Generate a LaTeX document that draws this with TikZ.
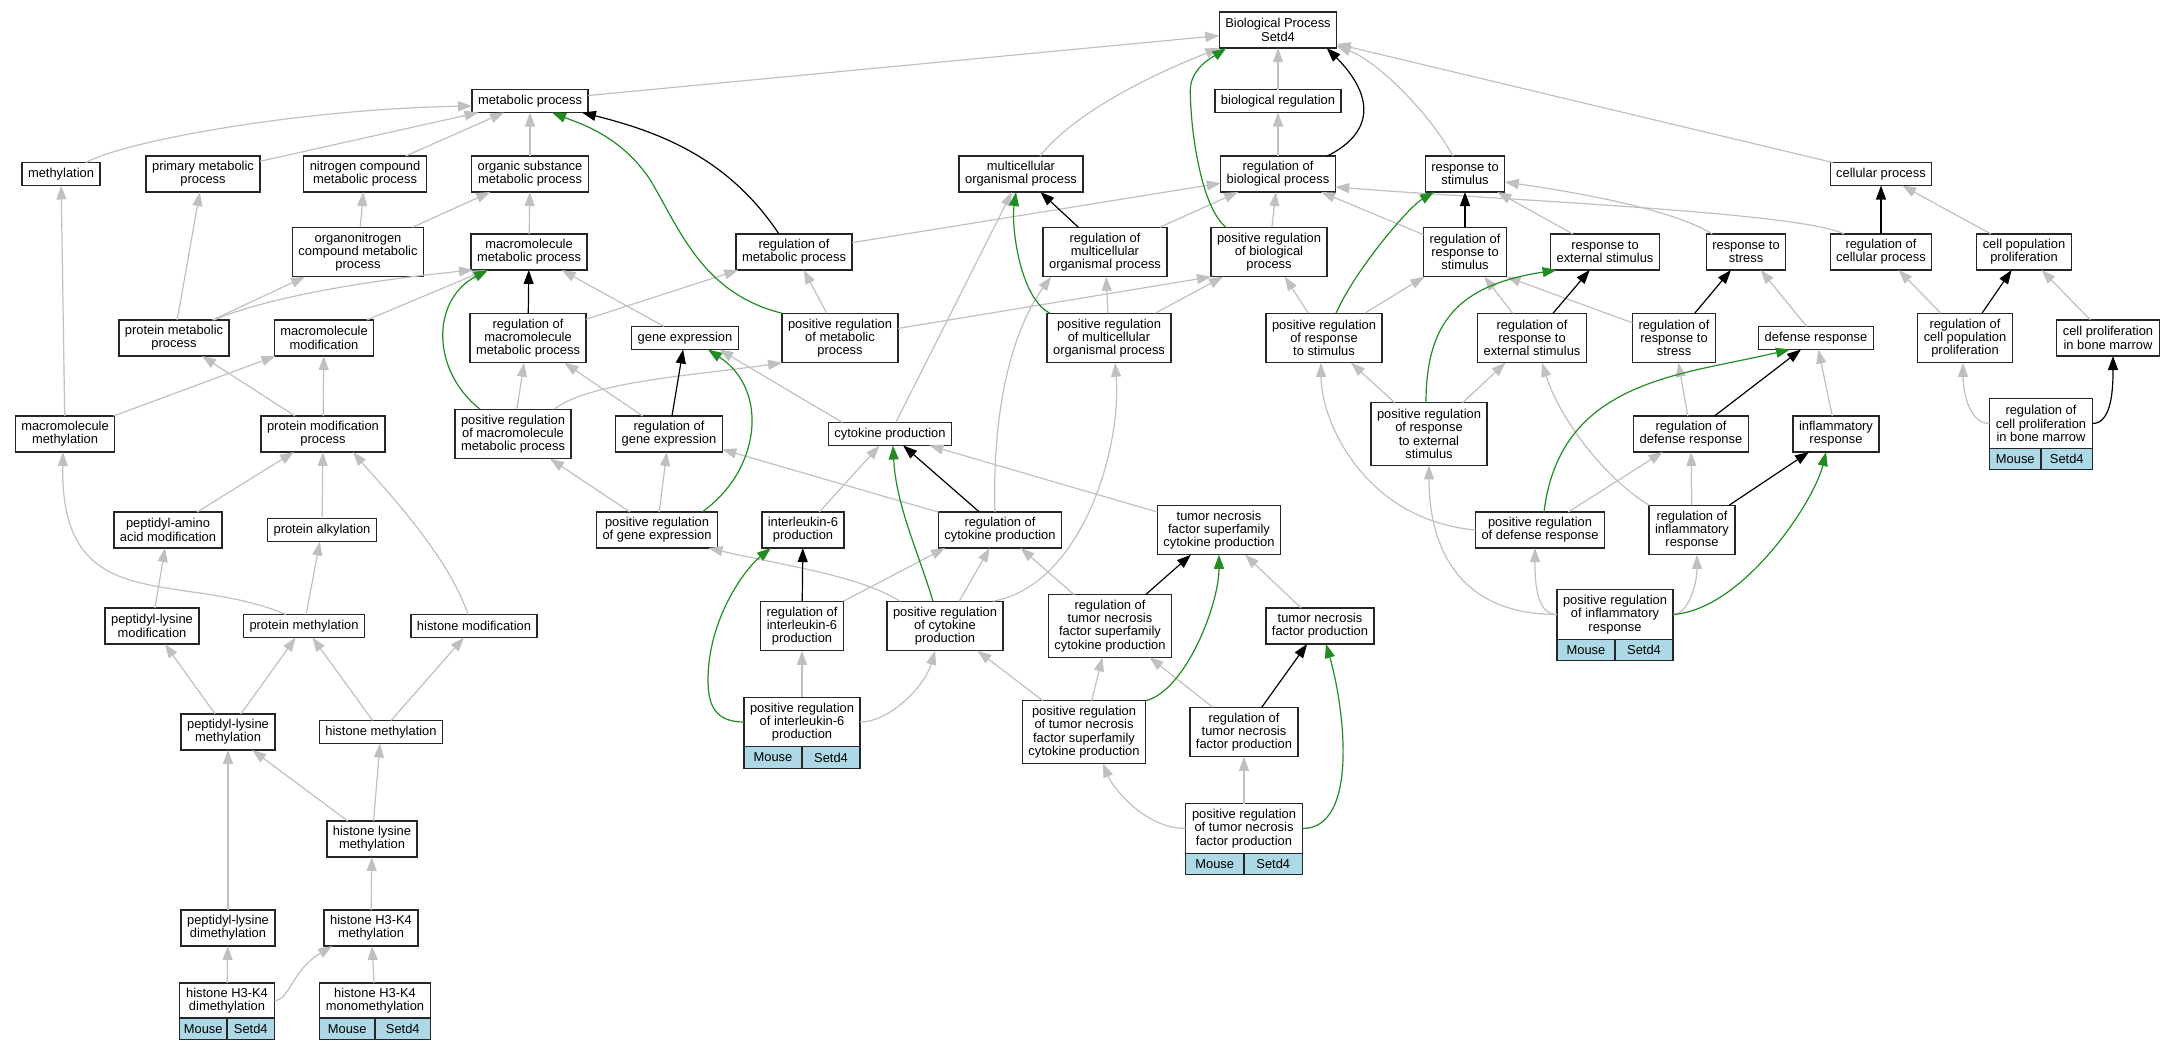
\documentclass[tikz,border=0pt]{standalone}
\usepackage{fontspec}
\setmainfont{Liberation Sans}
\usetikzlibrary{arrows.meta,calc}
\definecolor{isagray}{RGB}{192,192,192}
\definecolor{posgreen}{RGB}{34,139,34}
\definecolor{taxonblue}{RGB}{173,216,230}
\newcommand{\speciesrow}[1]{%
  \path let \p1=($(#1.south east)-(#1.south west)$) in
    node[cell,minimum width=0.5*\x1,anchor=north west] (#1-m) at (#1.south west) {Mouse}
    node[cell,minimum width=0.5*\x1,anchor=north east] (#1-s) at (#1.south east) {Setd4};}
\begin{document}
\begin{tikzpicture}[
    x=0.5pt, y=-0.5pt,
    box/.style={draw=black!85, line width=0.65pt, fill=white, rectangle, align=center,
      inner xsep=3pt, inner ysep=2pt, outer sep=0pt, minimum height=11.5pt,
      font=\fontsize{6.45pt}{6.65pt}\selectfont},
    box2/.style={box, minimum height=18pt},
    box3/.style={box, minimum height=24.75pt},
    box4/.style={box, minimum height=31.25pt},
    cell/.style={box, fill=taxonblue, minimum height=10.75pt, inner sep=0pt},
    isa/.style={draw=isagray, line width=0.6pt, -{Triangle[length=7pt,width=5pt]}},
    reg/.style={draw=black, line width=0.6pt, -{Triangle[length=7pt,width=5pt]}},
    posreg/.style={draw=posgreen, line width=0.6pt, -{Triangle[length=7pt,width=5pt]}}
  ]
  \useasboundingbox (0,0) rectangle (2175,1051);

  \node[box2] (bp) at (1278,30) {Biological Process\\Setd4};
  \node[box] (meta) at (530,101) {metabolic process};
  \node[box] (bioreg) at (1278,101) {biological regulation};

  \node[box] (methyl) at (61,174) {methylation};
  \node[box2] (primmeta) at (203,174) {primary metabolic\\process};
  \node[box2] (nitro) at (365,174) {nitrogen compound\\metabolic process};
  \node[box2] (orgsub) at (530,174) {organic substance\\metabolic process};
  \node[box2] (multi) at (1021,174) {multicellular\\organismal process};
  \node[box2] (regbio) at (1278,174) {regulation of\\biological process};
  \node[box2] (resstim) at (1465,174) {response to\\stimulus};
  \node[box] (cellproc) at (1881,174) {cellular process};

  \node[box3] (orgnitro) at (358,252) {organonitrogen\\compound metabolic\\process};
  \node[box2] (macmeta) at (529,252) {macromolecule\\metabolic process};
  \node[box2] (regmeta) at (794,252) {regulation of\\metabolic process};
  \node[box3] (regmulti) at (1105,252) {regulation of\\multicellular\\organismal process};
  \node[box3] (posbio) at (1269,252) {positive regulation\\of biological\\process};
  \node[box3] (regstim) at (1465,252) {regulation of\\response to\\stimulus};
  \node[box2] (resext) at (1605,252) {response to\\external stimulus};
  \node[box2] (resstress) at (1746,252) {response to\\stress};
  \node[box2] (regcell) at (1881,252) {regulation of\\cellular process};
  \node[box2] (cellpop) at (2024,252) {cell population\\proliferation};

  \node[box2] (protmeta) at (174,338) {protein metabolic\\process};
  \node[box2] (macmod) at (324,338) {macromolecule\\modification};
  \node[box3] (regmac) at (528,338) {regulation of\\macromolecule\\metabolic process};
  \node[box] (gene) at (685,338) {gene expression};
  \node[box3] (posmeta) at (840,338) {positive regulation\\of metabolic\\process};
  \node[box3] (posmulti) at (1109,338) {positive regulation\\of multicellular\\organismal process};
  \node[box3] (posstim) at (1324,338) {positive regulation\\of response\\to stimulus};
  \node[box3] (regext) at (1532,338) {regulation of\\response to\\external stimulus};
  \node[box3] (regstress) at (1674,338) {regulation of\\response to\\stress};
  \node[box] (defense) at (1816,338) {defense response};
  \node[box3] (regpop) at (1965,338) {regulation of\\cell population\\proliferation};
  \node[box2] (bonemar) at (2108,338) {cell proliferation\\in bone marrow};

  \node[box2] (macmethyl) at (65,434) {macromolecule\\methylation};
  \node[box2] (protmod) at (323,434) {protein modification\\process};
  \node[box3] (posmac) at (513,434) {positive regulation\\of macromolecule\\metabolic process};
  \node[box2] (reggene) at (669,434) {regulation of\\gene expression};
  \node[box] (cytok) at (890,434) {cytokine production};
  \node[box4] (posext) at (1429,434) {positive regulation\\of response\\to external\\stimulus};
  \node[box2] (regdef) at (1691,434) {regulation of\\defense response};
  \node[box2] (inflam) at (1836,434) {inflammatory\\response};
  \node[box3, minimum width=51.5pt] (regbone) at (2041,423.5) {regulation of\\cell proliferation\\in bone marrow};

  \node[box2] (pepamino) at (168,530) {peptidyl-amino\\acid modification};
  \node[box] (protalk) at (322,530) {protein alkylation};
  \node[box2] (posgene) at (657,530) {positive regulation\\of gene expression};
  \node[box2] (il6) at (803,530) {interleukin-6\\production};
  \node[box2] (regcyt) at (1000,530) {regulation of\\cytokine production};
  \node[box3] (tnfsf) at (1219,530) {tumor necrosis\\factor superfamily\\cytokine production};
  \node[box2] (posdef) at (1540,530) {positive regulation\\of defense response};
  \node[box3] (reginf) at (1692,530) {regulation of\\inflammatory\\response};

  \node[box2] (peplys) at (152,626) {peptidyl-lysine\\modification};
  \node[box] (protmethyl) at (304,626) {protein methylation};
  \node[box] (histmod) at (474,626) {histone modification};
  \node[box3] (regil6) at (802,626) {regulation of\\interleukin-6\\production};
  \node[box3] (poscyt) at (945,626) {positive regulation\\of cytokine\\production};
  \node[box4] (regtnfsf) at (1110,626) {regulation of\\tumor necrosis\\factor superfamily\\cytokine production};
  \node[box2] (tnf) at (1320,626) {tumor necrosis\\factor production};
  \node[box3, minimum width=58pt] (posinf) at (1615,614.5) {positive regulation\\of inflammatory\\response};

  \node[box2] (peplysme) at (228,732) {peptidyl-lysine\\methylation};
  \node[box] (histme) at (381,732) {histone methylation};
  \node[box3, minimum width=58pt] (posil6) at (802,722) {positive regulation\\of interleukin-6\\production};
  \node[box4] (postnfsf) at (1084,732) {positive regulation\\of tumor necrosis\\factor superfamily\\cytokine production};
  \node[box3] (regtnf) at (1244,732) {regulation of\\tumor necrosis\\factor production};

  \node[box2] (histlys) at (372,839) {histone lysine\\methylation};
  \node[box3, minimum width=58.5pt] (postnf) at (1244,828.5) {positive regulation\\of tumor necrosis\\factor production};

  \node[box2] (peplysdi) at (228,928) {peptidyl-lysine\\dimethylation};
  \node[box2] (h3k4) at (371,928) {histone H3-K4\\methylation};

  \node[box2, minimum width=47.5pt, minimum height=17.5pt] (h3k4di) at (227,1000.5) {histone H3-K4\\dimethylation};
  \node[box2, minimum width=55.5pt, minimum height=17.5pt] (h3k4mono) at (375,1000.5) {histone H3-K4\\monomethylation};

  \speciesrow{h3k4di}
  \speciesrow{h3k4mono}
  \speciesrow{posil6}
  \speciesrow{postnf}
  \speciesrow{posinf}
  \speciesrow{regbone}

  \begin{scope}[isa]
    \path
    (meta) edge (bp)
    (bioreg) edge (bp)
    (cellproc) edge (bp)
    (regbio) edge (bioreg)
    (posbio) edge (regbio)
    (primmeta) edge (meta)
    (nitro) edge (meta)
    (orgsub) edge (meta)
    (orgnitro) edge (nitro)
    (orgnitro) edge (orgsub)
    (macmeta) edge (orgsub)
    (protmeta) edge (primmeta)
    (protmeta) edge (orgnitro)
    (macmod) edge (macmeta)
    (gene) edge (macmeta)
    (regmac) edge (regmeta)
    (posmeta) edge (regmeta)
    (regmeta) edge (regbio)
    (posmeta) edge (posbio.south west)
    (cytok) edge (multi)
    (posmulti) edge (regmulti)
    (regmulti) edge (regbio)
    (posmulti) edge (posbio)
    (posgene) edge (reggene)
    (posgene) edge (posmac)
    (reggene) edge (regmac)
    (posmac) edge (regmac)
    (il6) edge (cytok)
    (tnfsf) edge (cytok)
    (regcyt) edge (reggene)
    (poscyt) edge (regcyt)
    (regil6.north east) edge ($(regcyt.south)+(-55,0)$)
    (posil6) edge (regil6)
    (regtnfsf) edge (regcyt)
    (postnfsf) edge (regtnfsf)
    (postnfsf) edge (poscyt)
    (tnf) edge (tnfsf)
    (regtnf) edge (regtnfsf)
    (postnf) edge (regtnf)
    (regstim) edge (regbio)
    (resext) edge (resstim)
    (cellpop) edge (cellproc)
    (regstress) edge (regstim.south east)
    (defense) edge (resstress)
    (regdef) edge (regstress)
    (inflam) edge (defense)
    (reginf) edge (regdef)
    (regext) edge (regstim)
    (posstim) edge (regstim)
    (posstim) edge (posbio)
    (posext) edge (posstim)
    (posext) edge (regext)
    (posdef) edge (regdef)
    (regpop) edge (regcell)
    (bonemar) edge (cellpop)
    (macmethyl) edge (methyl)
    (macmethyl) edge (macmod)
    (protmod) edge (macmod)
    (protmod) edge (protmeta)
    (pepamino) edge (protmod)
    (protalk) edge (protmod)
    (protmethyl) edge (protalk)
    (peplys) edge (pepamino)
    (peplysme) edge (peplys)
    (peplysme) edge (protmethyl)
    (histme) edge (protmethyl)
    (histme) edge (histmod)
    (histlys) edge (peplysme)
    (histlys) edge (histme)
    (h3k4) edge (histlys)
    (peplysdi) edge (peplysme)
    (h3k4di) edge (peplysdi)
    (h3k4mono) edge (h3k4)
    ;
    \draw ($(methyl.north)+(25,0)$) .. controls +(40,-22) and +(-170,3) .. ($(meta.west)+(0,5)$);
    \draw ($(multi.north)+(19,0)$) .. controls +(40,-50) and +(-50,20) .. (bp.south west);
    \draw ($(resstim.north)+(-12,0)$) .. controls +(-25,-45) and +(40,15) .. ($(bp.south east)+(0,-2)$);
    \draw ($(protmeta.north)+(40,0)$) .. controls +(46,-20) and +(-120,12) .. ($(macmeta.south west)+(2,0)$);
    \draw ($(posmac.north east)+(-17,0)$) .. controls +(36,-28) and +(-82,12) .. (posmeta.south west);
    \draw ($(cytok.north west)+(14,0)$) -- ($(gene.south east)+(-19,0)$);
    \draw ($(regcyt.north)+(-5,0)$) .. controls +(-3,-100) and +(-40,55) .. ($(regmulti.south west)+(8,0)$);
    \draw ($(poscyt.north east)+(-10,0)$) .. controls +(88,-16) and +(7,87) .. ($(posmulti.south)+(6,0)$);
    \draw ($(poscyt.north west)+(13,0)$) .. controls +(-41,-26) and +(72,17) .. ($(posgene.south east)+(-9,0)$);
    \draw (posil6.east) .. controls +(30,0) and +(-10,35) .. ($(poscyt.south)+(-10,0)$);
    \draw (postnf.west) .. controls +(-40,0) and +(10,25) .. ($(postnfsf.south)+(19,0)$);
    \draw ($(resstress.north west)+(6,0)$) .. controls +(-40,-25) and +(70,10) .. ($(resstim.east)+(0,8)$);
    \draw ($(regcell.north west)+(14,0)$) .. controls +(-44,-22) and +(164,13) .. ($(regbio.east)+(0,13)$);
    \draw (reginf.north west) .. controls +(-44,-27) and +(18,57) .. ($(regext.south)+(10,0)$);
    \draw (posdef.west) .. controls +(-110,-10) and +(0,60) .. ($(posstim.south)+(-3,0)$);
    \draw (posinf.west) .. controls +(-22,0) and +(0,30) .. ($(posdef.south)+(-5,0)$);
    \draw (posinf.east) .. controls +(15,0) and +(0,30) .. ($(reginf.south)+(5,0)$);
    \draw (posinf.west) .. controls +(-100,0) and +(0,80) .. (posext.south);
    \draw (regbone.west) .. controls +(-20,0) and +(0,30) .. ($(regpop.south)+(-2,0)$);
    \draw ($(histmod.north)+(-6,0)$) .. controls +(-20,-60) and +(30,35) .. ($(protmod.south east)+(-32,0)$);
    \draw ($(protmethyl.north)+(-18,0)$) .. controls +(-106,-45) and +(-3,168) .. ($(macmethyl.south)+(-2,0)$);
    \draw (h3k4di.east) .. controls +(15,0) and +(-41,25) .. ($(h3k4.south west)+(8,0)$);
  \end{scope}

  \begin{scope}[reg]
    \path
    (regmac) edge (macmeta)
    (reggene) edge (gene)
    (regmulti) edge (multi)
    (regcyt) edge (cytok)
    (regil6) edge (il6)
    (regtnfsf) edge (tnfsf)
    (regtnf) edge (tnf)
    (regstim) edge (resstim)
    (regext) edge (resext)
    (regstress) edge (resstress)
    (regdef) edge (defense)
    (reginf) edge (inflam)
    (regcell) edge (cellproc)
    (regpop) edge (cellpop)
    ;
    \draw ($(regbio.north east)+(-8,0)$) .. controls +(50,-25) and +(45,45) .. ($(bp.south east)+(-10,0)$);
    \draw ($(regmeta.north)+(-15,0)$) .. controls +(-50,-75) and +(80,20) .. ($(meta.south east)+(-6,0)$);
    \draw (regbone.east) .. controls +(20,0) and +(0,30) .. ($(bonemar.south)+(5,0)$);
  \end{scope}

  \begin{scope}[posreg]
    \draw ($(posbio.north)+(-43,0)$) .. controls +(-25,-20) and +(0,40) .. ($(bp.south west)+(-29,42)$) .. controls +(0,-22) and +(-12,8) .. ($(bp.south west)+(7,0)$);
    \draw (posmeta.north west) .. controls +(-80,-20) and +(30,50) .. ($(meta.south)+(120,67)$) .. controls +(-30,-45) and +(25,10) .. ($(meta.south)+(22,0)$);
    \draw ($(posmac.north west)+(25,0)$) .. controls +(-49,-39) and +(-57,30) .. ($(macmeta.south west)+(17,0)$);
    \draw ($(posgene.north)+(45,0)$) .. controls +(58,-41) and +(62,41) .. ($(gene.south)+(23,0)$);
    \draw ($(posmulti.north west)+(3,0)$) .. controls +(-30,-15) and +(-5,35) .. ($(multi.south)+(-5,0)$);
    \draw ($(poscyt.north)+(-12,0)$) .. controls +(-15,-50) and +(3,60) .. ($(cytok.south)+(3,0)$);
    \draw (posil6.west) .. controls +(-29,0) and +(0,25) .. ($(posil6.west)+(-36,-42)$) .. controls +(0,-60) and +(-27,22) .. ($(il6.south west)+(9,0)$);
    \draw (postnfsf.north east) .. controls +(40,-10) and +(0,50) .. (tnfsf.south);
    \draw (postnf.east) .. controls +(56,0) and +(19,66) .. ($(tnf.south)+(6,0)$);
    \draw ($(posstim.north)+(12,0)$) .. controls +(20,-45) and +(-25,15) .. ($(resstim.south)+(-31,0)$);
    \draw ($(posext.north)+(-3,0)$) .. controls +(0,-82) and +(-97,15) .. ($(resext.south west)+(6,0)$);
    \draw ($(posdef.north)+(4,0)$) .. controls +(16,-132) and +(-110,26) .. ($(defense.south)+(-26,0)$);
    \draw (posinf.east) .. controls +(70,-5) and +(-12,50) .. ($(inflam.south)+(-10,0)$);
  \end{scope}
\end{tikzpicture}
\end{document}
